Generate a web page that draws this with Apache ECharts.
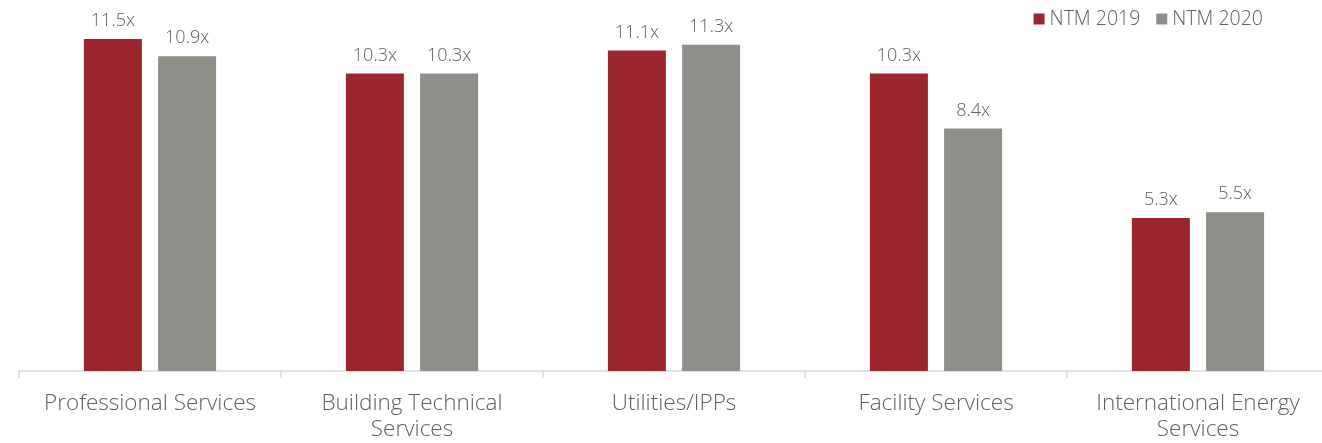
<!DOCTYPE html>
<html><head><meta charset="utf-8">
<script src="https://cdn.jsdelivr.net/npm/echarts@6/dist/echarts.min.js"></script>
<style>html,body{margin:0;padding:0;background:#fff;overflow:hidden}#c{width:1340px;height:443px}</style>
</head><body><div id="c"></div>
<script>
const categories = ['Professional Services', 'Building Technical\nServices', 'Utilities/IPPs', 'Facility Services', 'International Energy\nServices'];
const seriesNames = ['NTM 2019', 'NTM 2020'];
const ntm2019 = [11.5, 10.3, 11.1, 10.3, 5.3];
const ntm2020 = [10.9, 10.3, 11.3, 8.4, 5.5];
const colors = ['#9B262E', '#8F8F89'];
const font = '"Open Sans", sans-serif';
const txt = '#606060';
const chart = echarts.init(document.getElementById('c'));
const lbl = {show: true, position: 'top', distance: 9, color: txt, fontSize: 18, fontFamily: font, fontWeight: 300, formatter: p => p.value.toFixed(1) + 'x'};
chart.setOption({
  animation: false,
  legend: {top: 4, right: 72, itemWidth: 11, itemHeight: 11, itemGap: 16, itemTextGap: 5, icon: 'rect',
    textStyle: {color: txt, fontSize: 19.5, fontFamily: font, fontWeight: 300}, data: seriesNames},
  grid: {left: 19, right: 11, top: 10, bottom: 68, containLabel: false},
  xAxis: {type: 'category', data: categories,
    axisLine: {lineStyle: {color: '#d9d9d9', width: 1.5}},
    axisTick: {show: true, length: 7, lineStyle: {color: '#d9d9d9', width: 1.5}},
    axisLabel: {color: txt, fontSize: 22.5, fontFamily: font, fontWeight: 300, margin: 20, lineHeight: 26, interval: 0}},
  yAxis: {type: 'value', min: 0, max: 12.5, show: false, splitLine: {show: false}},
  series: [
    {name: seriesNames[0], type: 'bar', data: ntm2019, barWidth: 58, barGap: '28%', itemStyle: {color: colors[0]}, label: lbl},
    {name: seriesNames[1], type: 'bar', data: ntm2020, barWidth: 58, itemStyle: {color: colors[1]}, label: lbl}
  ]
});
</script></body></html>
